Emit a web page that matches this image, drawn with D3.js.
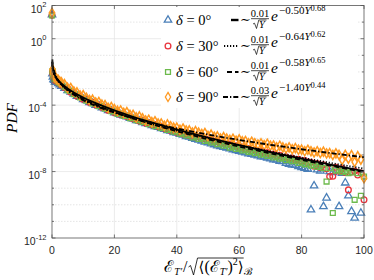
<!DOCTYPE html>
<html><head><meta charset="utf-8">
<script src="https://cdn.jsdelivr.net/npm/d3@7"></script>
<style>body{margin:0;background:#fff}svg{display:block}</style>
</head><body>
<svg id="c" width="374" height="280"></svg>
<script>
// ---------------- data ----------------
const xBins = [0,0.15,0.3,0.5,0.75,1,1.5,2,2.5,3,
 4,5,6,7,8,9,10,11,12,13,14,15,16,17,18,19,20,21,22,23,24,25,26,27,28,29,30,
 31,32,33,34,35,36,37,38,39,40,41,42,43,44,45,46,47,48,49,50,51,52,53,54,55,56,57,58,59,60,
 61,62,63,64,65,66,67,68,69,70,71,72,73,74,75,76,77,78,79,80,81,82,83,84,85,86,87,88,89,90,
 91,92,93,94,95,96,97,98,99,100];

const pdf0 = [2.8e1,7.9e-3,5.0e-3,3.5e-3,3.2e-3,2.5e-3,2.4e-3,2.0e-3,1.7e-3,1.4e-3,
 1.05e-3,7.6e-4,6.3e-4,4.7e-4,3.5e-4,3.0e-4,2.2e-4,
 1.9e-4,1.45e-4,1.26e-4,1.0e-4,8.9e-5,6.9e-5,6.2e-5,4.8e-5,4.4e-5,3.5e-5,
 3.2e-5,2.6e-5,2.3e-5,2.0e-5,1.66e-5,1.45e-5,1.2e-5,1.1e-5,9.1e-6,7.9e-6,
 7.1e-6,6.0e-6,5.2e-6,4.7e-6,4.0e-6,3.5e-6,3.0e-6,2.75e-6,2.3e-6,2.1e-6,
 1.8e-6,1.6e-6,1.3e-6,1.2e-6,1.02e-6,8.9e-7,7.9e-7,6.9e-7,6.0e-7,5.4e-7,
 4.7e-7,4.2e-7,3.6e-7,3.3e-7,2.95e-7,2.6e-7,2.35e-7,2.1e-7,1.9e-7,1.7e-7,
 1.5e-7,1.38e-7,1.2e-7,1.12e-7,1.0e-7,8.9e-8,7.9e-8,7.6e-8,6.5e-8,6.0e-8,
 5.2e-8,5.0e-8,4.2e-8,4.0e-8,3.2e-8,2.8e-8,2.5e-8,2.4e-8,2.0e-8,1.78e-8,
 1.58e-8,1.41e-8,5.0e-11,1.4e-9,1.3e-8,1.1e-8,7.9e-11,2.6e-10,1.0e-8,9.0e-9,
 null,7.9e-11,8.0e-9,2.1e-9,3.5e-10,4.0e-11,1.6e-11,null,3.2e-11,null];

const pdf30 = [2.6e1,1.0e-2,7.1e-3,5.0e-3,3.8e-3,3.2e-3,2.75e-3,2.4e-3,2.0e-3,1.66e-3,
 1.15e-3,1.0e-3,6.0e-4,5.5e-4,3.6e-4,3.5e-4,2.3e-4,
 2.24e-4,1.51e-4,1.51e-4,1.05e-4,1.05e-4,7.4e-5,7.1e-5,5.0e-5,5.1e-5,3.6e-5,
 3.8e-5,2.7e-5,2.8e-5,2.05e-5,2.0e-5,1.51e-5,1.51e-5,1.1e-5,1.17e-5,8.5e-6,
 8.9e-6,6.6e-6,6.9e-6,5.1e-6,5.4e-6,4.0e-6,4.1e-6,3.0e-6,3.2e-6,2.35e-6,
 2.5e-6,1.86e-6,2.0e-6,1.48e-6,1.58e-6,1.2e-6,1.29e-6,9.5e-7,1.02e-6,7.8e-7,
 8.3e-7,6.3e-7,6.8e-7,5.0e-7,5.5e-7,4.1e-7,4.5e-7,3.4e-7,3.6e-7,2.75e-7,
 3.0e-7,2.24e-7,2.45e-7,1.86e-7,2.05e-7,1.51e-7,1.66e-7,1.26e-7,1.38e-7,1.05e-7,
 1.15e-7,8.7e-8,9.5e-8,7.2e-8,7.8e-8,5.9e-8,6.6e-8,5.0e-8,5.5e-8,4.2e-8,
 4.6e-8,3.5e-8,3.6e-8,2.1e-8,3.0e-8,1.74e-8,2.6e-8,1.48e-8,5.0e-9,5.2e-9,
 1.82e-8,1.05e-8,1.51e-8,8.7e-9,7.9e-10,9.3e-9,1.07e-8,6.3e-9,8.1e-9,2.0e-10];

const pdf60 = [2.5e1,1.12e-2,7.9e-3,5.6e-3,4.0e-3,3.8e-3,3.2e-3,2.6e-3,2.2e-3,1.82e-3,
 1.32e-3,7.9e-4,7.2e-4,4.6e-4,4.4e-4,2.9e-4,2.75e-4,
 1.86e-4,1.82e-4,1.26e-4,1.26e-4,8.7e-5,8.9e-5,6.2e-5,6.0e-5,4.3e-5,4.2e-5,
 3.0e-5,3.1e-5,2.24e-5,2.35e-5,1.66e-5,1.74e-5,1.26e-5,1.26e-5,9.8e-6,9.8e-6,
 7.1e-6,7.6e-6,5.5e-6,5.9e-6,4.3e-6,4.4e-6,3.2e-6,3.5e-6,2.5e-6,2.7e-6,
 1.9e-6,2.0e-6,1.51e-6,1.62e-6,1.15e-6,1.26e-6,9.3e-7,1.0e-6,7.1e-7,7.8e-7,
 5.75e-7,6.3e-7,4.5e-7,4.8e-7,3.6e-7,3.9e-7,2.8e-7,3.2e-7,2.3e-7,2.5e-7,
 1.9e-7,2.05e-7,1.55e-7,1.7e-7,1.29e-7,1.38e-7,1.05e-7,1.15e-7,8.7e-8,9.5e-8,
 7.2e-8,7.9e-8,6.0e-8,6.6e-8,4.9e-8,5.4e-8,4.2e-8,4.4e-8,3.3e-8,3.6e-8,
 2.75e-8,3.0e-8,2.3e-8,2.5e-8,1.9e-8,2.1e-8,1.62e-8,2.5e-9,1.62e-8,3.2e-11,
 1.15e-8,1.26e-8,9.5e-9,1.05e-8,8.1e-9,8.9e-9,2.0e-10,7.9e-9,3.5e-10,5.0e-9];

const pdf90 = [3.6e1,1.41e-2,1.0e-2,7.1e-3,5.0e-3,4.8e-3,3.8e-3,3.3e-3,2.6e-3,2.4e-3,
 1.86e-3,1.10e-3,1.07e-3,6.6e-4,5.9e-4,3.8e-4,4.0e-4,
 2.8e-4,2.05e-4,2.14e-4,1.45e-4,1.55e-4,1.07e-4,1.0e-4,6.9e-5,7.8e-5,5.8e-5,
 4.5e-5,4.8e-5,3.4e-5,3.8e-5,2.6e-5,2.6e-5,1.82e-5,2.1e-5,1.62e-5,1.2e-5,
 1.32e-5,9.5e-6,1.07e-5,7.8e-6,7.8e-6,5.75e-6,6.9e-6,5.4e-6,4.4e-6,4.45e-6,
 3.3e-6,3.9e-6,2.95e-6,3.0e-6,2.2e-6,2.75e-6,2.2e-6,1.82e-6,2.1e-6,1.41e-6,
 1.69e-6,1.25e-6,1.31e-6,9.7e-7,1.19e-6,9.7e-7,8.1e-7,9.5e-7,7.2e-7,8.7e-7,
 6.6e-7,6.9e-7,5.1e-7,6.2e-7,5.1e-7,4.3e-7,5.0e-7,3.9e-7,4.7e-7,3.6e-7,
 3.7e-7,2.85e-7,3.6e-7,2.85e-7,2.45e-7,2.85e-7,2.2e-7,2.6e-7,2.05e-7,2.1e-7,
 1.66e-7,2.05e-7,1.66e-7,1.41e-7,1.66e-7,1.31e-7,1.58e-7,1.23e-7,1.28e-7,1.0e-7,
 1.25e-7,1.02e-7,5.0e-8,1.02e-7,6.0e-8,9.7e-8,3.8e-8,8.5e-8,5.2e-8,4.0e-9];

// fitted curves
const fitX = [0.05,0.1,0.2,0.5,1,2,3,5,7,10,15,20,25,30,35,40,45,50,55,60,65,70,75,80,85,90,95,100];
const fit0 = [4.19e-2,2.85e-2,1.89e-2,1.035e-2,6.07e-3,3.18e-3,2.01e-3,1.005e-3,5.78e-4,2.89e-4,1.11e-4,4.83e-5,2.30e-5,1.17e-5,6.19e-6,3.40e-6,1.92e-6,1.11e-6,6.56e-7,3.96e-7,2.43e-7,1.50e-7,9.40e-8,5.97e-8,3.83e-8,2.47e-8,1.61e-8,1.07e-8];
const fit30 = [4.05e-2,2.71e-2,1.77e-2,9.33e-3,5.27e-3,2.64e-3,1.63e-3,7.89e-4,4.46e-4,2.19e-4,8.36e-5,3.70e-5,1.80e-5,9.35e-6,5.13e-6,2.90e-6,1.70e-6,1.02e-6,6.28e-7,3.92e-7,2.50e-7,1.62e-7,1.05e-7,6.98e-8,4.65e-8,3.16e-8,2.16e-8,1.49e-8];
const fit60 = [4.11e-2,2.78e-2,1.82e-2,9.77e-3,5.60e-3,2.84e-3,1.77e-3,8.57e-4,4.84e-4,2.37e-4,8.87e-5,3.83e-5,1.82e-5,9.20e-6,4.89e-6,2.68e-6,1.53e-6,8.83e-7,5.27e-7,3.21e-7,1.99e-7,1.24e-7,7.89e-8,5.05e-8,3.25e-8,2.14e-8,1.41e-8,9.44e-9];
const fit90 = [null,5.70e-2,3.36e-2,1.51e-2,7.40e-3,3.17e-3,1.79e-3,7.82e-4,4.20e-4,2.01e-4,7.71e-5,3.59e-5,1.87e-5,1.05e-5,6.31e-6,3.94e-6,2.54e-6,1.69e-6,1.15e-6,8.05e-7,5.69e-7,4.10e-7,3.01e-7,2.21e-7,1.66e-7,1.25e-7,9.51e-8,7.33e-8];

const angles = ['0','30','60','90'];
const fitCoef = ['0.01','0.01','0.01','0.03'];
const fitB = ['0.50','0.64','0.58','1.40'];
const fitC = ['0.68','0.62','0.65','0.44'];

const xTicks = [0,20,40,60,80,100];
const yTickVals = [1e2,1e0,1e-4,1e-8,1e-12];
const yTickExp = ['2','0','-4','-8','-12'];
const yMinor = [1e1,1e-1,1e-2,1e-3,1e-5,1e-6,1e-7,1e-9,1e-10,1e-11];

// ---------------- drawing ----------------
const SERIF = "'Liberation Serif','DejaVu Serif',serif";
const MATH = "'DejaVu Serif','Liberation Serif',serif";
const SANS = "'Liberation Sans',Arial,'DejaVu Sans',sans-serif";
const svg = d3.select('#c');
const x = d3.scaleLinear().domain([0,100]).range([52,364]);
const y = d3.scaleLog().domain([1e-12,1e2]).range([238,5.5]);
const L = x.range()[0], R = x.range()[1], T = y.range()[1], B = y.range()[0];

const colors = ['#4a7fb8','#e8333c','#6cba4c','#ff9a22'];
const symbols = [d3.symbolTriangle, d3.symbolCircle, d3.symbolSquare, d3.symbolDiamond];
const symSize = [24, 26, 24, 24];
const series = [pdf0,pdf30,pdf60,pdf90];
const fits = [fit0,fit30,fit60,fit90];
const dashes = [null,'1.2,1.8','5,3','5,2,1.3,2'];

// grid
const grid = svg.append('g');
grid.selectAll('.mg').data(yMinor).join('line')
  .attr('x1',L).attr('x2',R).attr('y1',d=>y(d)).attr('y2',d=>y(d))
  .attr('stroke','#d4d4d4').attr('stroke-width',0.6).attr('stroke-dasharray','1.5,1.5');
grid.selectAll('.yg').data(yTickVals.slice(1,4)).join('line')
  .attr('x1',L).attr('x2',R).attr('y1',d=>y(d)).attr('y2',d=>y(d))
  .attr('stroke','#e2e2e2').attr('stroke-width',0.7);
grid.selectAll('.xg').data(xTicks.slice(1,5)).join('line')
  .attr('y1',T).attr('y2',B).attr('x1',d=>x(d)).attr('x2',d=>x(d))
  .attr('stroke','#e2e2e2').attr('stroke-width',0.7);

// scatter
series.forEach((s,k)=>{
  const pts = xBins.map((v,i)=>[v,s[i]]).filter(p=>p[1]!=null);
  svg.append('g').selectAll('path').data(pts).join('path')
    .attr('d', d3.symbol().type(symbols[k]).size(symSize[k]))
    .attr('transform', p=>`translate(${x(p[0])},${y(p[1])})`)
    .attr('fill','none').attr('stroke',colors[k]).attr('stroke-width',k===3?1.5:1.3);
});

// fit lines
const line = d3.line().defined(d=>d[1]!=null).x(d=>x(d[0])).y(d=>y(d[1])).curve(d3.curveMonotoneX);
fits.forEach((f,k)=>{
  svg.append('path').datum(fitX.map((v,i)=>[v,f[i]]))
    .attr('d',line).attr('fill','none').attr('stroke','#000').attr('stroke-width',1.8)
    .attr('stroke-dasharray',dashes[k]);
});

// axes box
const ax = svg.append('g').attr('stroke','#555').attr('stroke-width',0.8).attr('fill','none');
ax.append('rect').attr('x',L).attr('y',T).attr('width',R-L).attr('height',B-T);
xTicks.forEach(v=>{
  ax.append('line').attr('x1',x(v)).attr('x2',x(v)).attr('y1',B).attr('y2',B-3.5);
  ax.append('line').attr('x1',x(v)).attr('x2',x(v)).attr('y1',T).attr('y2',T+3.5);
});
yTickVals.forEach(v=>{
  ax.append('line').attr('x1',L).attr('x2',L+3.5).attr('y1',y(v)).attr('y2',y(v));
  ax.append('line').attr('x1',R).attr('x2',R-3.5).attr('y1',y(v)).attr('y2',y(v));
});
yMinor.forEach(v=>{
  ax.append('line').attr('x1',L).attr('x2',L+2).attr('y1',y(v)).attr('y2',y(v));
  ax.append('line').attr('x1',R).attr('x2',R-2).attr('y1',y(v)).attr('y2',y(v));
});

// tick labels
svg.append('g').selectAll('text').data(xTicks).join('text')
  .attr('x',d=>x(d)).attr('y',254).attr('text-anchor','middle')
  .attr('font-family',SANS).attr('font-size',10.5).attr('fill','#262626').text(d=>d);
yTickVals.forEach((v,i)=>{
  const t = svg.append('text').attr('x',46.5).attr('y',y(v)+7).attr('text-anchor','end')
    .attr('font-family',SANS).attr('font-size',10.5).attr('fill','#262626');
  t.append('tspan').text('10');
  t.append('tspan').attr('dy',-5.5).attr('font-size',7.5).text(yTickExp[i]);
});

// y label
svg.append('text').attr('transform','translate(16.5,118) rotate(-90)').attr('text-anchor','middle')
  .attr('font-family',SERIF).attr('font-style','italic').attr('font-size',15.5).text('PDF');

// sequential text helper
function seq(g, x0, y0, pieces){
  let cx = x0;
  pieces.forEach(p=>{
    if(p.gap!=null){ cx += p.gap; return; }
    const el = g.append('text').attr('x',cx).attr('y',y0+(p.dy||0))
      .attr('font-family',p.fam||SERIF).attr('font-size',p.size)
      .attr('font-style',p.it?'italic':'normal').text(p.t);
    cx += el.node().getComputedTextLength();
  });
  return cx;
}

// x label
const xl = svg.append('g');
const base = 272;
let cx = seq(xl,0,base,[
  {t:'ℰ',size:16,fam:MATH},{t:'T′',size:10,dy:2.5,it:true},{gap:1},{t:'/',size:16},{gap:1}
]);
const radX = cx; cx += 10;
const endX = seq(xl,cx,base,[
  {t:'⟨',size:15,fam:MATH},{t:'(',size:16},{t:'ℰ',size:16,fam:MATH},{t:'T′',size:10,dy:2.5,it:true},
  {t:')',size:16},{t:'2',size:10,dy:-7},{t:'⟩',size:15,fam:MATH},{t:'ℬ',size:10,dy:2.5,fam:MATH}
]);
xl.append('path').attr('d',`M${radX},${base-5} L${radX+2},${base-6.5} L${radX+5},${base+3} L${radX+9},${base-14} L${endX-8},${base-14}`)
  .attr('fill','none').attr('stroke','#000').attr('stroke-width',0.8);
xl.attr('transform',`translate(${(L+R)/2 - endX/2},0)`);

// legend
const lg = svg.append('g');
lg.append('rect').attr('x',161).attr('y',7).attr('width',197).attr('height',101).attr('fill','#fff');
const legBase = [25,51,77,102];
const sampleX1 = [231,224,227,223];
angles.forEach((a,i)=>{
  const b = legBase[i];
  lg.append('path').attr('d',d3.symbol().type(symbols[i]).size(symSize[i])())
    .attr('transform',`translate(168,${b-5})`).attr('fill','none').attr('stroke',colors[i]).attr('stroke-width',1.3);
  const t = lg.append('text').attr('x',176).attr('y',b).attr('font-family',SERIF).attr('font-size',14.5);
  t.append('tspan').attr('font-style','italic').text('δ');
  t.append('tspan').text(' = '+a+'°');
  lg.append('line').attr('x1',sampleX1[i]).attr('x2',238.5).attr('y1',b-5).attr('y2',b-5)
    .attr('stroke','#000').attr('stroke-width',i===0?2.4:1.8).attr('stroke-dasharray',dashes[i]);
  lg.append('text').attr('x',240).attr('y',b-1).attr('font-family',MATH).attr('font-size',13).text('∼');
  // fraction
  lg.append('text').attr('x',260).attr('y',b-8).attr('text-anchor','middle')
    .attr('font-family',SERIF).attr('font-size',10.5).text(fitCoef[i]);
  lg.append('line').attr('x1',251).attr('x2',269).attr('y1',b-6.3).attr('y2',b-6.3).attr('stroke','#000').attr('stroke-width',0.7);
  lg.append('path').attr('d',`M${253},${b-1} L${254.5},${b-1.8} L${256.5},${b+3.5} L${258.8},${b-5} L${266.5},${b-5}`)
    .attr('fill','none').attr('stroke','#000').attr('stroke-width',0.7);
  lg.append('text').attr('x',259).attr('y',b+3).attr('font-family',SERIF).attr('font-style','italic').attr('font-size',10.5).text('Y');
  // exponential
  lg.append('text').attr('x',271).attr('y',b-4).attr('font-family',SERIF).attr('font-style','italic').attr('font-size',15.5).text('e');
  const s = lg.append('text').attr('x',279).attr('y',b-11).attr('font-family',SERIF).attr('font-size',11);
  s.append('tspan').text('−'+fitB[i]);
  s.append('tspan').attr('font-style','italic').text('Y');
  s.append('tspan').attr('dy',-3.5).attr('font-size',8.5).text(fitC[i]);
});
</script>
</body></html>
